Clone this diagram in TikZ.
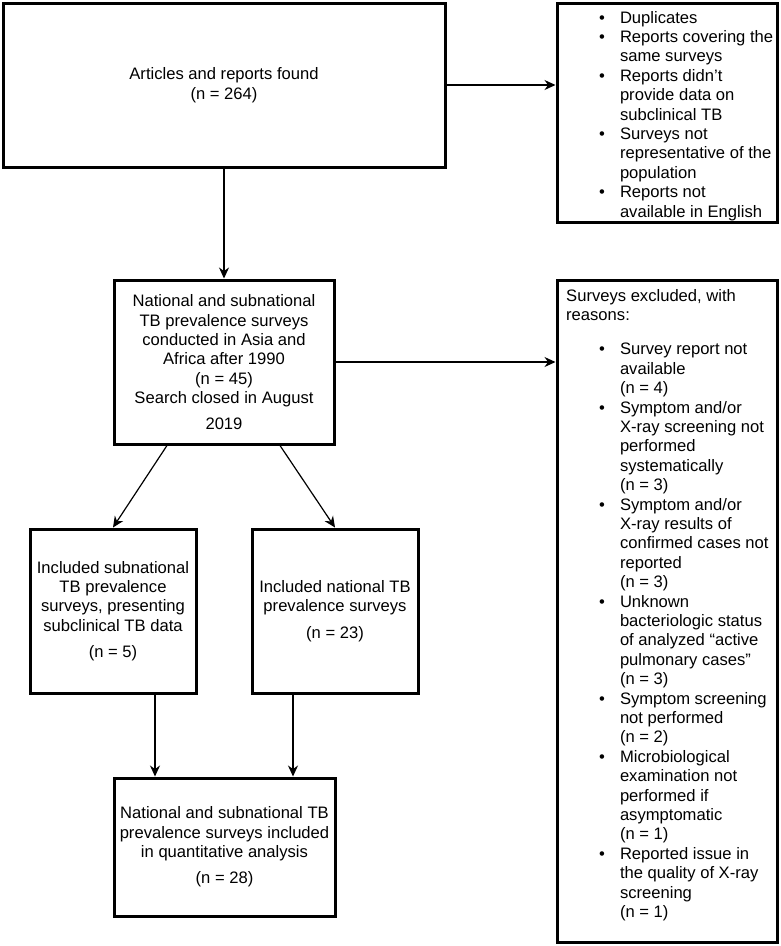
\documentclass[tikz,border=0pt]{standalone}
\usepackage{fontspec}
\setmainfont{Liberation Sans}
\usepackage{tikz}
\usetikzlibrary{arrows.meta, positioning}

\newcommand{\fs}{\fontsize{16.6}{19.4}\selectfont}

\begin{document}
\begin{tikzpicture}[x=1pt, y=-1pt,
    box/.style={draw, line width=3pt, align=center, inner sep=0pt, font=\fs},
    txt/.style={inner sep=0pt, anchor=north west, font=\fs, align=left},
    arr/.style={line width=1.2pt, -{Stealth[length=11pt, width=10pt]}}]
    \useasboundingbox (0,0) rectangle (780,946);

    % Draw the main boxes
    \node[box, minimum width=442, minimum height=164] (found) at (224,85)
        {Articles and reports found\\(n = 264)};
    \node[box, minimum width=220, minimum height=164] (surveys) at (224,362)
        {National and subnational\\TB prevalence surveys\\conducted in Asia and\\Africa after 1990\\(n = 45)\\Search closed in August\\[6pt]2019};
    \node[box, minimum width=166, minimum height=164] (subnat) at (113,611)
        {Included subnational\\TB prevalence\\surveys, presenting\\subclinical TB data\\[7pt](n = 5)};
    \node[box, minimum width=166, minimum height=164] (nat) at (335,611)
        {Included national TB\\prevalence surveys\\[7pt](n = 23)};
    \node[box, minimum width=221, minimum height=138] (quant) at (224.5,847)
        {National and subnational TB\\prevalence surveys included\\in quantitative analysis\\[7pt](n = 28)};

    % Draw the exclusion boxes
    \node[box, minimum width=220, minimum height=219] (dupl) at (667,112.5) {};
    \node[box, minimum width=220, minimum height=662] (excl) at (667,611) {};

    % Texts of the exclusion boxes
    \node[txt] (dupltxt) at (599,9.4) {%
        \begin{tabular}{@{}l@{\hspace{15pt}}l@{}}
        \textbullet & Duplicates\\
        \textbullet & Reports covering the\\
                    & same surveys\\
        \textbullet & Reports didn’t\\
                    & provide data on\\
                    & subclinical TB\\
        \textbullet & Surveys not\\
                    & representative of the\\
                    & population\\
        \textbullet & Reports not\\
                    & available in English
        \end{tabular}};
    \node[txt] (excltxt) at (566,287.4) {%
        \begin{tabular}{@{\hspace{33pt}}l@{\hspace{15pt}}l@{}}
        \multicolumn{2}{@{}l@{}}{Surveys excluded, with}\\
        \multicolumn{2}{@{}l@{}}{reasons:}\\[15pt]
        \textbullet & Survey report not\\
                    & available\\
                    & (n = 4)\\
        \textbullet & Symptom and/or\\
                    & X-ray screening not\\
                    & performed\\
                    & systematically\\
                    & (n = 3)\\
        \textbullet & Symptom and/or\\
                    & X-ray results of\\
                    & confirmed cases not\\
                    & reported\\
                    & (n = 3)\\
        \textbullet & Unknown\\
                    & bacteriologic status\\
                    & of analyzed “active\\
                    & pulmonary cases”\\
                    & (n = 3)\\
        \textbullet & Symptom screening\\
                    & not performed\\
                    & (n = 2)\\
        \textbullet & Microbiological\\
                    & examination not\\
                    & performed if\\
                    & asymptomatic\\
                    & (n = 1)\\
        \textbullet & Reported issue in\\
                    & the quality of X-ray\\
                    & screening\\
                    & (n = 1)
        \end{tabular}};

    % Draw the arrows
    \draw[arr] (found.east) -- (found.east -| dupl.west);
    \draw[arr] (found.south) -- (surveys.north);
    \draw[arr] (surveys.east) -- (surveys.east -| excl.west);
    \draw[arr] ([xshift=-57]surveys.south) -- (subnat.north);
    \draw[arr] ([xshift=56]surveys.south) -- (nat.north);
    \draw[arr] ([xshift=42]subnat.south) -- ([xshift=42]subnat.south |- quant.north);
    \draw[arr] ([xshift=-42]nat.south) -- ([xshift=-42]nat.south |- quant.north);
\end{tikzpicture}
\end{document}
